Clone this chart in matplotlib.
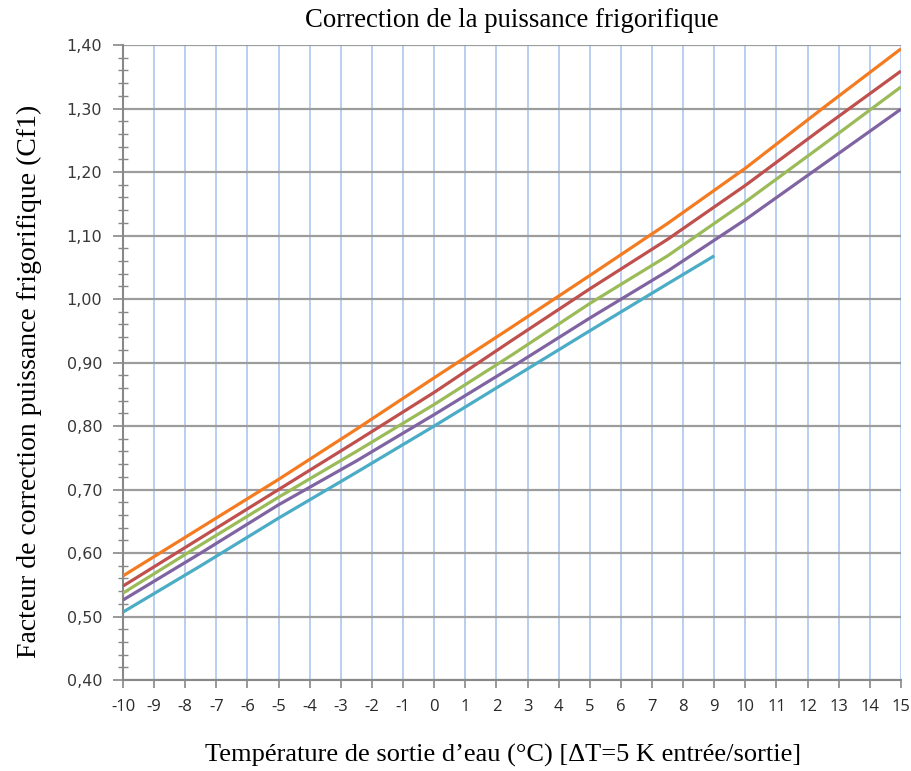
import matplotlib.pyplot as plt
from matplotlib.ticker import MultipleLocator, FuncFormatter

# valeurs
temp = [-10, -7.5, -5, -2.5, 0, 2.5, 5, 7.5, 10, 12.5, 15]
temp_court = [-10, -7.5, -5, -2.5, 0, 2.5, 5, 7.5, 9]

orange = [0.564, 0.640, 0.716, 0.795, 0.876, 0.956, 1.037, 1.119, 1.206, 1.301, 1.394]
rouge = [0.548, 0.624, 0.700, 0.776, 0.853, 0.935, 1.016, 1.094, 1.179, 1.270, 1.359]
vert = [0.537, 0.613, 0.688, 0.760, 0.834, 0.912, 0.993, 1.068, 1.153, 1.243, 1.334]
violet = [0.526, 0.600, 0.676, 0.745, 0.818, 0.893, 0.970, 1.044, 1.125, 1.212, 1.299]
cyan = [0.507, 0.580, 0.655, 0.727, 0.800, 0.875, 0.950, 1.024, 1.068]

x_ticks = list(range(-10, 16))

fig = plt.figure(figsize=(9.12, 7.71), dpi=100)
ax = fig.add_axes([0.1349, 0.118, 0.853, 0.8236])

ax.set_xlim(-10, 15)
ax.set_ylim(0.40, 1.40)

ax.plot(temp, orange, color='#F47B20', lw=2.3, solid_capstyle='butt', zorder=5)
ax.plot(temp, rouge, color='#C0504D', lw=2.3, solid_capstyle='butt', zorder=5)
ax.plot(temp, vert, color='#9BBB59', lw=2.3, solid_capstyle='butt', zorder=5)
ax.plot(temp, violet, color='#8064A2', lw=2.3, solid_capstyle='butt', zorder=5)
ax.plot(temp_court, cyan, color='#4BACC6', lw=2.3, solid_capstyle='butt', zorder=5)

# grilles
for v in x_ticks[1:]:
    ax.axvline(v, color='#B4CAF0', lw=1.3, zorder=1)
ax.yaxis.set_major_locator(MultipleLocator(0.1))
ax.yaxis.set_minor_locator(MultipleLocator(0.02))
ax.grid(axis='y', which='major', color='#9C9C9C', lw=1.6, zorder=2)

ax.set_xticks(x_ticks)
ax.set_xticklabels([str(v) for v in x_ticks])
ax.yaxis.set_major_formatter(FuncFormatter(lambda v, p: f"{v:.2f}".replace('.', ',')))

for s in ['top', 'right']:
    ax.spines[s].set_visible(False)
for s in ['left', 'bottom']:
    ax.spines[s].set_color('#888888')
    ax.spines[s].set_linewidth(1.5)

ax.tick_params(axis='y', which='major', direction='out', length=7, width=1.2,
               color='#888888', labelsize=11.5, labelcolor='#383838', pad=8)
ax.tick_params(axis='y', which='minor', direction='inout', length=7, width=1.0,
               color='#888888')
ax.tick_params(axis='x', which='major', direction='out', length=6, width=1.2,
               color='#888888', labelsize=12, labelcolor='#282828', pad=8)
for lab in ax.get_xticklabels():
    lab.set_family('Open Sans')
for lab in ax.get_yticklabels():
    lab.set_fontweight('medium')

ax.set_title("Correction de la puissance frigorifique", family='Liberation Serif',
             fontsize=19.3, pad=13)
ax.set_xlabel("Température de sortie d’eau (°C) [ΔT=5 K entrée/sortie]",
              family='Liberation Serif', fontsize=19, labelpad=18)
ax.xaxis.set_label_coords(0.488, -0.101)
ax.set_ylabel("Facteur de correction puissance frigorifique (Cf1)",
              family='Liberation Serif', fontsize=20, labelpad=14)
ax.yaxis.set_label_coords(-0.104, 0.47)

fig.savefig('out.png', dpi=100)
